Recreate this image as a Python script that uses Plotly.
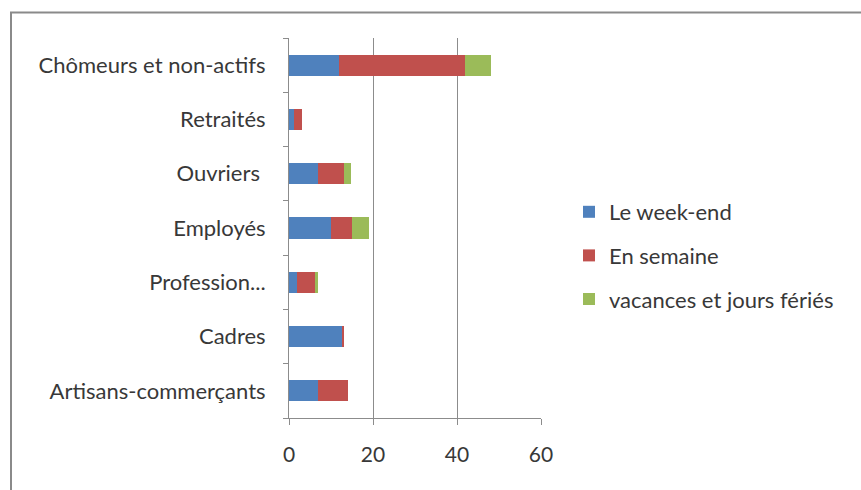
import plotly.graph_objects as go

# Categories, bottom to top
categories = [
    "Artisans-commerçants",
    "Cadres",
    "Profession...",
    "Employés",
    "Ouvriers ",
    "Retraités",
    "Chômeurs et non-actifs",
]

# Stacked series values
week_end = [7.0, 12.5, 1.8, 10.0, 7.0, 1.2, 12.0]
semaine = [7.0, 0.6, 4.4, 5.0, 6.0, 1.8, 30.0]
vacances = [0.0, 0.0, 0.6, 4.0, 1.8, 0.0, 6.0]

series_names = ["Le week-end", "En semaine", "vacances et jours fériés"]
series_colors = ["#4F81BD", "#C0504D", "#9BBB59"]
x_ticks = [0, 20, 40, 60]

FONT = "Lato, 'Open Sans', sans-serif"
TXT = "#383838"

fig = go.Figure()
for i, (name, vals, col) in enumerate(zip(series_names, [week_end, semaine, vacances], series_colors)):
    fig.add_trace(go.Bar(
        y=categories, x=vals, name=name, orientation="h",
        legendgroup=f"g{i}",
        marker=dict(color=col, line=dict(width=0)),
    ))

W, H = 861, 490
ml, mr, mt, mb = 289, 320, 38, 72
pw, ph = W - ml - mr, H - mt - mb

def px_x(p):
    return (p - ml) / pw

def px_y(p):
    return (H - mb - p) / ph

fig.update_layout(
    width=W, height=H,
    barmode="stack",
    bargap=0.61,
    margin=dict(l=ml, r=mr, t=mt, b=mb),
    paper_bgcolor="white",
    plot_bgcolor="white",
    font=dict(family=FONT, size=22, color=TXT),
    showlegend=True,
    legend=dict(
        x=px_x(569), y=px_y(191), xanchor="left", yanchor="top",
        traceorder="grouped",
        font=dict(family=FONT, size=22, color=TXT),
        itemwidth=30, tracegroupgap=12,
        bgcolor="rgba(0,0,0,0)",
    ),
    xaxis=dict(
        range=[0, 60], tickvals=x_ticks,
        showgrid=True, gridcolor="#8c8c8c", gridwidth=1,
        showline=True, linecolor="#8c8c8c", linewidth=1,
        ticks="outside", ticklen=6, tickcolor="#8c8c8c",
        ticklabelstandoff=12,
        tickfont=dict(size=21),
        zeroline=False, fixedrange=True,
    ),
    yaxis=dict(
        type="category",
        showgrid=False,
        showline=True, linecolor="#8c8c8c", linewidth=1,
        ticks="outside", ticklen=5, tickcolor="#8c8c8c",
        tickson="boundaries",
        ticklabelstandoff=18,
        tickfont=dict(size=22),
        fixedrange=True,
    ),
    shapes=[dict(
        type="rect", xref="paper", yref="paper",
        x0=px_x(11), x1=px_x(900), y0=px_y(530), y1=px_y(12.5),
        line=dict(color="#8a8a8a", width=2), fillcolor="rgba(0,0,0,0)",
        layer="below",
    )],
)

fig.write_html("out.html")
